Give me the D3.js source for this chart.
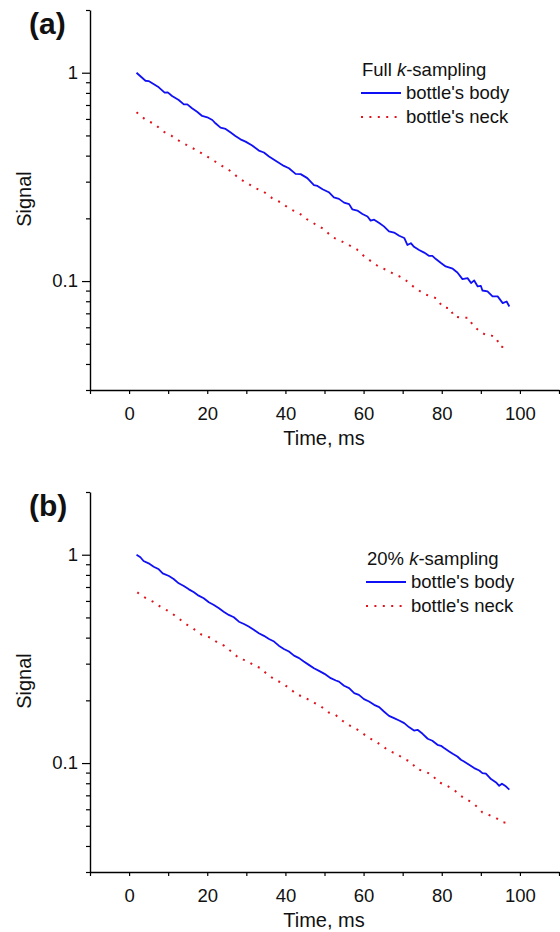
<!DOCTYPE html>
<html><head><meta charset="utf-8">
<script src="https://cdn.jsdelivr.net/npm/d3@7"></script>
<style>
html,body{margin:0;padding:0;background:#fff;}
svg{display:block;font-family:"Liberation Sans",Arial,sans-serif;}
</style></head>
<body><svg id="chart" width="560" height="932"></svg>
<script>
// ---- data ----
const timeBodyA = [1.9,4.2,5.0,7.6,9.1,9.9,11.0,12.7,14.0,14.9,16.1,17.4,18.7,20.0,21.3,22.1,23.4,24.7,26.0,27.2,28.5,29.8,31.5,33.2,34.5,35.8,37.1,38.3,39.6,40.9,42.6,43.9,45.6,47.3,48.2,49.5,51.1,52.4,53.7,55.0,56.3,57.1,58.4,59.7,61.0,61.8,62.7,64.0,65.2,66.5,67.8,69.1,70.4,71.2,72.1,72.9,74.2,75.5,76.8,77.6,78.5,79.8,81.0,82.8,84.0,85.3,86.6,87.5,88.3,89.2,90.0,90.4,91.7,93.0,94.3,95.6,96.6,97.3];
const signalBodyA = [1.00,0.915,0.912,0.851,0.802,0.805,0.773,0.740,0.705,0.705,0.675,0.650,0.620,0.611,0.593,0.572,0.545,0.537,0.516,0.497,0.479,0.467,0.447,0.423,0.414,0.396,0.382,0.370,0.357,0.348,0.327,0.326,0.312,0.289,0.286,0.276,0.267,0.252,0.248,0.238,0.234,0.221,0.218,0.210,0.204,0.195,0.197,0.190,0.183,0.173,0.171,0.165,0.161,0.149,0.152,0.146,0.141,0.137,0.132,0.132,0.1275,0.122,0.1175,0.1146,0.110,0.1022,0.1033,0.0978,0.1007,0.0942,0.0949,0.0901,0.0892,0.0844,0.0844,0.0784,0.0798,0.0755];
const timeNeckA = [1.9,4.4,6.5,8.6,10.8,13.1,15.5,17.6,19.6,21.9,24.2,26.2,28.3,30.1,32.4,34.5,36.6,38.9,41.1,43.5,45.5,47.6,49.8,52.0,54.0,56.1,58.2,60.3,62.1,63.8,65.7,67.8,70.2,71.9,73.5,75.6,77.6,78.8,80.2,82.3,83.0,85.1,86.9,87.5,88.7,90.3,92.1,92.8,93.9,94.9,96.9];
const signalNeckA = [0.646,0.591,0.568,0.524,0.499,0.467,0.442,0.421,0.400,0.376,0.353,0.335,0.309,0.296,0.279,0.268,0.250,0.238,0.222,0.212,0.198,0.1875,0.1776,0.1625,0.1565,0.1493,0.1423,0.1308,0.1238,0.1175,0.1133,0.108,0.1033,0.0967,0.0918,0.0866,0.0838,0.0825,0.0750,0.0739,0.0677,0.0667,0.0667,0.0633,0.0595,0.0563,0.0545,0.0547,0.0537,0.0484,0.0480];
const timeBodyB = [1.9,2.9,3.7,5.0,6.3,7.6,8.6,10.2,11.4,12.7,14.0,15.3,16.6,17.8,19.1,20.4,21.7,23.0,24.2,25.5,26.8,28.1,29.4,30.6,31.9,33.2,34.5,35.8,37.1,38.3,39.6,40.9,42.2,43.5,44.7,46.0,47.3,48.6,50.0,51.6,52.9,53.7,55.0,56.3,57.6,58.8,60.1,61.4,62.7,64.0,65.2,66.5,67.8,69.1,70.4,71.6,72.9,73.8,75.1,76.4,77.6,78.9,79.8,80.6,81.9,82.8,84.0,84.9,85.7,87.0,88.3,89.6,90.4,91.3,92.6,93.9,94.7,95.4,96.4,97.3];
const signalBodyB = [1.00,0.972,0.933,0.909,0.876,0.851,0.814,0.790,0.765,0.729,0.708,0.682,0.660,0.636,0.618,0.591,0.574,0.553,0.533,0.514,0.501,0.477,0.465,0.452,0.436,0.420,0.408,0.394,0.383,0.366,0.353,0.343,0.328,0.319,0.307,0.296,0.285,0.277,0.268,0.2556,0.249,0.246,0.235,0.229,0.2166,0.2126,0.2027,0.1974,0.1903,0.1855,0.1768,0.1685,0.1643,0.160,0.1555,0.1488,0.1433,0.1444,0.1382,0.1308,0.1279,0.1224,0.1210,0.1180,0.1137,0.1108,0.1075,0.1037,0.1018,0.0981,0.0946,0.0921,0.0895,0.0889,0.0838,0.0807,0.0778,0.0796,0.0773,0.0745];
const timeNeckB = [2.1,3.9,6.1,8.2,10.0,12.2,14.2,16.4,18.5,20.8,22.7,24.3,26.4,28.3,30.1,32.3,33.6,35.4,37.4,38.9,41.0,42.8,44.7,46.9,49.0,51.1,52.7,54.6,56.7,58.8,61.2,62.9,64.6,66.5,68.3,70.8,72.1,73.6,75.7,77.5,79.1,81.2,83.3,84.8,86.2,87.9,89.4,90.4,92.1,93.9,95.4,96.4];
const signalNeckB = [0.660,0.625,0.595,0.560,0.537,0.504,0.469,0.442,0.414,0.400,0.378,0.366,0.340,0.317,0.310,0.292,0.286,0.266,0.251,0.2434,0.2289,0.2142,0.2073,0.1967,0.1875,0.1748,0.171,0.1595,0.1504,0.1433,0.1327,0.1275,0.1215,0.1146,0.1108,0.1037,0.1014,0.0936,0.0911,0.0879,0.0811,0.0781,0.0739,0.0697,0.0672,0.0643,0.0609,0.0580,0.0563,0.0545,0.0521,0.0517];

const xMajorTicks = [0,20,40,60,80,100];
const xMinorTicks = [-10,10,30,50,70,90,110];
const yMajorTicks = [0.1,1];
const yMajorLabels = ["0.1","1"];
const yMinorTicks = [0.03,0.04,0.05,0.06,0.07,0.08,0.09,0.2,0.3,0.4,0.5,0.6,0.7,0.8,0.9,2];
const seriesNames = ["bottle's body","bottle's neck"];
const panelLabels = ["(a)","(b)"];
const legendTitles = [["Full ","k","-sampling"],["20% ","k","-sampling"]];
const xTitle = "Time, ms";
const yTitle = "Signal";

// ---- drawing ----
const svg = d3.select("#chart");
const x = d3.scaleLinear().domain([-10,110]).range([90,559]);
const y = d3.scaleLog().domain([0.03,2]).range([390,10]);
const BLUE = "#1010f5", RED = "#e0141e";

const panels = [
  {dy:0, body:d3.zip(timeBodyA,signalBodyA), neck:d3.zip(timeNeckA,signalNeckA), lx:0, ly:0},
  {dy:482, body:d3.zip(timeBodyB,signalBodyB), neck:d3.zip(timeNeckB,signalNeckB), lx:5, ly:7}
];

const line = d3.line().x(d=>x(d[0])).y(d=>y(d[1]));

panels.forEach((p,i)=>{
  const g = svg.append("g").attr("transform",`translate(0,${p.dy})`);

  // x axis
  const xAxisMinor = d3.axisBottom(x).tickValues(xMinorTicks).tickSize(4).tickFormat("").tickSizeOuter(0);
  const xAxisMajor = d3.axisBottom(x).tickValues(xMajorTicks).tickSize(4).tickPadding(13).tickSizeOuter(0).tickFormat(d3.format("d"));
  g.append("g").attr("transform","translate(0,390)").call(xAxisMinor).call(a=>a.select(".domain").remove());
  const xa = g.append("g").attr("transform","translate(0,390)").call(xAxisMajor);
  xa.selectAll("text").attr("font-size",18.5).attr("fill","#111").attr("font-family","Liberation Sans, Arial, sans-serif");

  // y axis
  const yAxisMinor = d3.axisLeft(y).tickValues(yMinorTicks).tickSize(4).tickFormat("").tickSizeOuter(0);
  const yAxisMajor = d3.axisLeft(y).tickValues(yMajorTicks).tickSize(8).tickPadding(4).tickSizeOuter(0)
      .tickFormat((d,j)=>yMajorLabels[j]);
  g.append("g").attr("transform","translate(90,0)").call(yAxisMinor).call(a=>a.select(".domain").remove());
  const ya = g.append("g").attr("transform","translate(90,0)").call(yAxisMajor);
  ya.selectAll("text").attr("font-size",18.5).attr("fill","#111").attr("font-family","Liberation Sans, Arial, sans-serif");

  g.selectAll(".domain").attr("stroke","#000").attr("stroke-width",1.4);
  g.selectAll(".tick line").attr("stroke","#000").attr("stroke-width",1.2);

  // titles
  g.append("text").attr("x",324).attr("y",445).attr("text-anchor","middle")
    .attr("font-size",20).attr("fill","#111").text(xTitle);
  g.append("text").attr("transform","translate(31,199) rotate(-90)").attr("text-anchor","middle")
    .attr("font-size",20).attr("fill","#111").text(yTitle);
  g.append("text").attr("x",29).attr("y",34).attr("font-size",30).attr("font-weight","bold")
    .attr("fill","#111").text(panelLabels[i]);

  // data
  g.append("path").datum(p.neck).attr("d",line).attr("fill","none").attr("stroke",RED)
    .attr("stroke-width",2).attr("stroke-dasharray","2 6.4");
  g.append("path").datum(p.body).attr("d",line).attr("fill","none").attr("stroke",BLUE)
    .attr("stroke-width",1.8).attr("stroke-linejoin","round");

  // legend
  const lg = g.append("g").attr("transform",`translate(${p.lx},${p.ly})`);
  const t = lg.append("text").attr("x",362).attr("y",76).attr("font-size",18.5).attr("fill","#111");
  t.append("tspan").text(legendTitles[i][0]);
  t.append("tspan").attr("font-style","italic").text(legendTitles[i][1]);
  t.append("tspan").text(legendTitles[i][2]);
  lg.append("line").attr("x1",361).attr("x2",401).attr("y1",93).attr("y2",93)
    .attr("stroke",BLUE).attr("stroke-width",1.8);
  lg.append("text").attr("x",406).attr("y",99).attr("font-size",18.5).attr("fill","#111").text(seriesNames[0]);
  lg.append("line").attr("x1",361).attr("x2",403).attr("y1",117).attr("y2",117)
    .attr("stroke",RED).attr("stroke-width",2).attr("stroke-dasharray","2 6.4");
  lg.append("text").attr("x",406).attr("y",123).attr("font-size",18.5).attr("fill","#111").text(seriesNames[1]);
});
</script></body></html>
